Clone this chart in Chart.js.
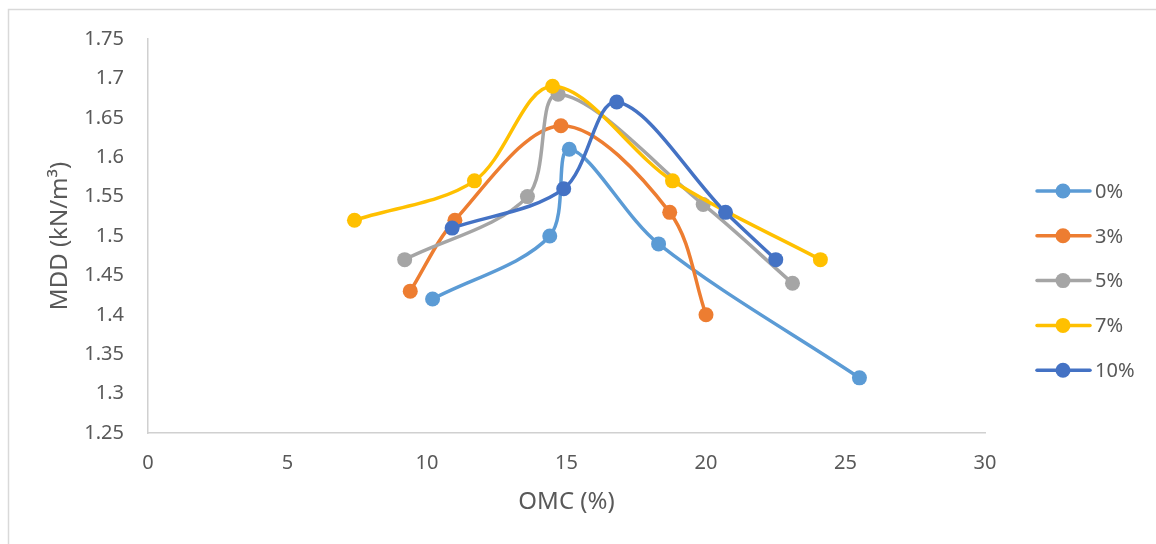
<!DOCTYPE html>
<html>
<head>
<meta charset="utf-8">
<title>MDD vs OMC</title>
<script src="https://cdn.jsdelivr.net/npm/chart.js@4.4.1/dist/chart.umd.min.js"></script>
<style>
  html, body { margin: 0; padding: 0; background: #fff; }
  canvas { display: block; }
</style>
</head>
<body>
<canvas id="chart" width="1156" height="544"></canvas>
<script>
// data
const seriesNames = ["0%", "3%", "5%", "7%", "10%"];
const seriesColors = ["#5B9BD5", "#ED7D31", "#A5A5A5", "#FFC000", "#4472C4"];

const omc0 = [10.2, 14.4, 15.1, 18.3, 25.5];
const mdd0 = [1.42, 1.50, 1.61, 1.49, 1.32];
const omc3 = [9.4, 11.0, 14.8, 18.7, 20.0];
const mdd3 = [1.43, 1.52, 1.64, 1.53, 1.40];
const omc5 = [9.2, 13.6, 14.7, 19.9, 23.1];
const mdd5 = [1.47, 1.55, 1.68, 1.54, 1.44];
const omc7 = [7.4, 11.7, 14.5, 18.8, 24.1];
const mdd7 = [1.52, 1.57, 1.69, 1.57, 1.47];
const omc10 = [10.9, 14.9, 16.8, 20.7, 22.5];
const mdd10 = [1.51, 1.56, 1.67, 1.53, 1.47];

const xTickLabels = ["0", "5", "10", "15", "20", "25", "30"];
const yTickLabels = ["1.25", "1.3", "1.35", "1.4", "1.45", "1.5", "1.55", "1.6", "1.65", "1.7", "1.75"];

const allX = [omc0, omc3, omc5, omc7, omc10];
const allY = [mdd0, mdd3, mdd5, mdd7, mdd10];

const textColor = "#595959";
const fontFamily = "'Noto Sans', 'Open Sans', sans-serif";

const datasets = seriesNames.map((name, i) => ({
  label: name,
  data: allX[i].map((x, j) => ({ x: x, y: allY[i][j] })),
  showLine: true,
  borderColor: seriesColors[i],
  backgroundColor: seriesColors[i],
  borderWidth: 3.5,
  pointRadius: 7.5,
  pointBorderWidth: 0,
  pointHoverRadius: 7.5,
  tension: 0.33,
  order: seriesNames.length - i   // later series on top, like Excel
}));

// chart border (only top and left edges show in the reference)
const frame = {
  id: "frame",
  beforeDraw(chart) {
    const ctx = chart.ctx;
    ctx.save();
    ctx.strokeStyle = "#D9D9D9";
    ctx.lineWidth = 1.5;
    ctx.beginPath();
    ctx.moveTo(8.5, chart.height);
    ctx.lineTo(8.5, 9.5);
    ctx.lineTo(chart.width, 9.5);
    ctx.stroke();
    ctx.restore();
  }
};

// legend with line + marker swatches
const lineLegend = {
  id: "lineLegend",
  afterDraw(chart) {
    const ctx = chart.ctx;
    ctx.save();
    ctx.font = "20px " + fontFamily;
    ctx.textBaseline = "middle";
    ctx.textAlign = "left";
    seriesNames.forEach((name, i) => {
      const y = 191 + i * 44.8;
      ctx.strokeStyle = seriesColors[i];
      ctx.lineWidth = 3.5;
      ctx.lineCap = "round";
      ctx.beginPath();
      ctx.moveTo(1037, y);
      ctx.lineTo(1090, y);
      ctx.stroke();
      ctx.fillStyle = seriesColors[i];
      ctx.beginPath();
      ctx.arc(1063, y, 7.5, 0, Math.PI * 2);
      ctx.fill();
      ctx.fillStyle = textColor;
      ctx.fillText(name, 1095, y + 1);
    });
    ctx.restore();
  }
};

new Chart(document.getElementById("chart").getContext("2d"), {
  type: "scatter",
  data: { datasets: datasets },
  plugins: [frame, lineLegend],
  options: {
    responsive: false,
    animation: false,
    devicePixelRatio: 1,
    layout: { padding: { top: 39, right: 171, left: 42, bottom: 23 } },
    plugins: {
      legend: { display: false },
      tooltip: { enabled: false }
    },
    scales: {
      x: {
        type: "linear",
        min: 0,
        max: 30,
        ticks: {
          stepSize: 5,
          padding: 18,
          color: textColor,
          font: { family: fontFamily, size: 20 },
          maxRotation: 0,
          callback: (v, i) => xTickLabels[i]
        },
        grid: { display: false, drawTicks: false },
        border: { display: true, color: "#D0D0D0", width: 1.5 },
        title: {
          display: true,
          text: "OMC (%)",
          color: textColor,
          font: { family: fontFamily, size: 24 }
        },
        afterFit(scale) { scale.height = 88; }
      },
      y: {
        type: "linear",
        min: 1.25,
        max: 1.75,
        ticks: {
          stepSize: 0.05,
          padding: 24,
          color: textColor,
          font: { family: fontFamily, size: 20 },
          callback: (v, i) => yTickLabels[i]
        },
        grid: { display: false, drawTicks: false },
        border: { display: true, color: "#D0D0D0", width: 1.5 },
        title: {
          display: true,
          text: "MDD (kN/m³)",
          color: textColor,
          font: { family: fontFamily, size: 24 }
        },
        afterFit(scale) { scale.width = 106; }
      }
    }
  }
});
</script>
</body>
</html>
